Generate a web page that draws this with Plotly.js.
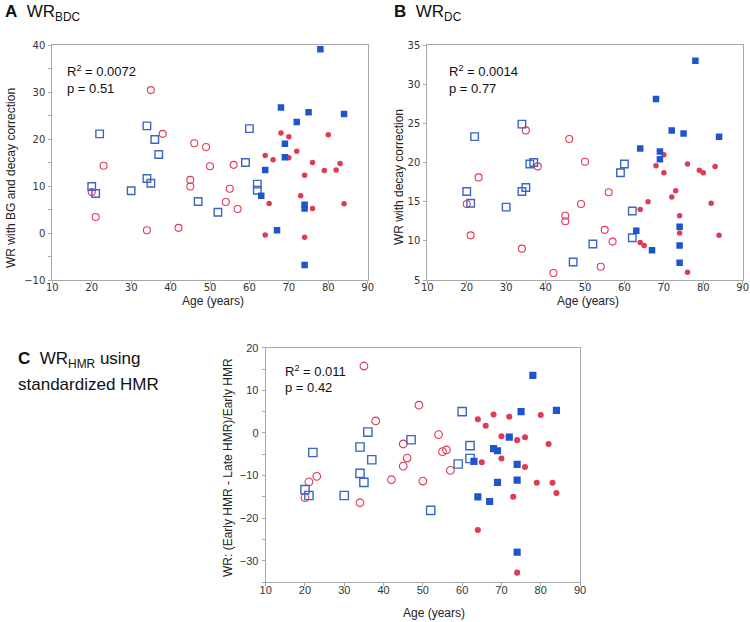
<!DOCTYPE html>
<html>
<head>
<meta charset="utf-8">
<script src="https://cdn.plot.ly/plotly-3.0.1.min.js"></script>
<style>html,body{margin:0;padding:0;background:#fff;}#chart{width:750px;height:622px;}</style>
</head>
<body>
<div id="chart"></div>
<script>
// ---- Data (ages in years, WR values) ----
const ageOpenBlue   = [20,21,22,30,34,34,35,36,37,47,52,59,60,62,62];
const ageFilledBlue = [63,64,67,68,69,69,72,74,74,74,75,78,84];
const ageOpenRed    = [20,21,23,34,35,38,42,45,45,46,49,50,54,55,56,57];
const ageFilledRed  = [64,64,65,66,68,70,70,72,73,74,74,76,76,79,80,82,83,84];

// Panel A: WR_BDC
const A_openBlue   = [9.9,8.4,21.1,9.0,22.8,11.6,10.6,19.9,16.7,6.7,4.4,15.0,22.2,10.4,9.1];
const A_filledBlue = [7.9,13.4,0.6,26.7,19.0,16.1,23.6,6.0,5.2,-6.8,25.7,39.1,25.3];
const A_openRed    = [8.7,3.4,14.3,0.6,30.4,21.1,1.1,11.3,9.9,19.1,18.3,14.2,6.6,9.4,14.5,5.1];
const A_filledRed  = [16.5,-0.4,6.3,15.6,21.3,20.5,16.0,17.4,7.9,12.3,-0.9,15.0,5.2,13.3,20.9,13.4,14.8,6.2];

// Panel B: WR_DC
const B_openBlue   = [16.3,14.8,23.3,14.3,24.9,16.3,16.8,19.8,20.0,7.3,9.6,18.7,19.8,13.8,10.4];
const B_filledBlue = [11.3,21.8,8.8,28.1,21.4,20.4,24.1,11.8,9.4,7.2,23.7,33.0,23.3];
const B_openRed    = [14.7,10.7,18.1,9.0,24.1,19.5,5.9,13.2,12.5,23.0,14.7,20.1,6.7,11.4,16.2,9.9];
const B_filledRed  = [14.0,9.8,9.4,15.0,19.6,21.0,18.7,15.6,16.4,13.2,11.0,19.8,6.0,19.0,18.7,14.8,19.5,10.7];

// Panel C: WR_HMR
const C_openBlue   = [-13.3,-14.7,-4.6,-14.7,-3.3,-9.5,-11.6,0.2,-6.3,-1.6,-18.2,-7.3,5.0,-3.0,-6.0];
const C_filledBlue = [-6.7,-15.0,-16.1,-3.7,-4.2,-11.6,-1.0,-7.4,-11.1,-28.0,5.0,13.5,5.3];
const C_openRed    = [-15.2,-11.5,-10.2,-16.4,15.7,2.8,-11.0,-2.6,-7.8,-5.9,6.5,-11.3,-0.4,-4.4,-4.0,-8.8];
const C_filledRed  = [3.2,-22.8,-6.9,1.7,4.3,-0.8,-6.0,3.8,-15.0,-1.7,-32.8,-1.0,-8.0,-11.7,4.2,-2.6,-11.7,-14.1];

const statsA = ["R<sup>2</sup> = 0.0072", "p = 0.51"];
const statsB = ["R<sup>2</sup> = 0.0014", "p = 0.77"];
const statsC = ["R<sup>2</sup> = 0.011", "p = 0.42"];

// ---- Styles ----
const BLUE = '#1f55cc', BLUE_OPEN = '#3a66c4', RED = '#e03a55';
const W = 750, H = 622;
const px = x => x / W, py = y => 1 - y / H;

function series(ax, ay, yOB, yFB, yOR, yFR, k) {
  return [
    {x: ageOpenRed, y: yOR, xaxis: ax, yaxis: ay, mode: 'markers', type: 'scatter',
     marker: {symbol: 'circle-open', size: 7 * k, color: RED, line: {width: 1.1, color: RED}}},
    {x: ageFilledRed, y: yFR, xaxis: ax, yaxis: ay, mode: 'markers', type: 'scatter',
     marker: {symbol: 'circle', size: 5.5 * k, color: RED}},
    {x: ageOpenBlue, y: yOB, xaxis: ax, yaxis: ay, mode: 'markers', type: 'scatter',
     marker: {symbol: 'square-open', size: 7.5 * k, color: BLUE_OPEN, line: {width: 1.4, color: BLUE_OPEN}}},
    {x: ageFilledBlue, y: yFB, xaxis: ax, yaxis: ay, mode: 'markers', type: 'scatter',
     marker: {symbol: 'square', size: 6.5 * k, color: BLUE}}
  ];
}

const data = [].concat(
  series('x', 'y', A_openBlue, A_filledBlue, A_openRed, A_filledRed, 1),
  series('x2', 'y2', B_openBlue, B_filledBlue, B_openRed, B_filledRed, 1),
  series('x3', 'y3', C_openBlue, C_filledBlue, C_openRed, C_filledRed, 1.1)
);

const fontAB = {family: 'DejaVu Sans', size: 10, color: '#333'};
const fontC = {family: 'Liberation Sans', size: 11, color: '#333'};
const axisBase = {
  showline: true, mirror: true, linecolor: '#a8a8a8', linewidth: 1,
  ticks: 'outside', ticklen: 3, tickcolor: '#a8a8a8', showgrid: false, zeroline: false
};
const xAx = (dom, anchor, font) => Object.assign({}, axisBase, {
  domain: dom, anchor: anchor, range: [10, 90], dtick: 10, tick0: 10,
  tickfont: font, ticklabelstandoff: -5
});
const yAx = (dom, anchor, range, dtick, minor, font) => {
  const a = Object.assign({}, axisBase, {domain: dom, anchor: anchor, range: range, dtick: dtick,
    tickfont: font, ticklabelstandoff: 1});
  if (minor) a.minor = {dtick: minor, ticks: 'outside', ticklen: 3, tickcolor: '#a8a8a8', showgrid: false};
  return a;
};

const titleFont = {family: 'Liberation Sans, Arial', size: 17, color: '#111'};
const labFont = {family: 'Liberation Sans, Arial', size: 12, color: '#222'};
const statFont = {family: 'Liberation Sans, Arial', size: 13, color: '#111'};

function ann(text, x, y, opts) {
  return Object.assign({text: text, xref: 'paper', yref: 'paper', x: px(x), y: py(y),
    showarrow: false, xanchor: 'left', yanchor: 'middle', font: labFont}, opts || {});
}

const annotations = [
  ann('<b>A</b>  WR<sub>BDC</sub>', 3, 13, {font: titleFont}),
  ann('<b>B</b>  WR<sub>DC</sub>', 392, 13, {font: titleFont}),
  ann('<b>C</b>  WR<sub>HMR</sub> using', 16, 360, {font: titleFont}),
  ann('standardized HMR', 16, 384, {font: titleFont}),
  ann('WR with BG and decay correction', 11, 178, {textangle: -90, xanchor: 'center'}),
  ann('WR with decay correction', 399, 177, {textangle: -90, xanchor: 'center'}),
  ann('WR: (Early HMR - Late HMR)/Early HMR', 228, 468, {textangle: -90, xanchor: 'center'}),
  ann('Age (years)', 213, 301, {xanchor: 'center'}),
  ann('Age (years)', 588, 301, {xanchor: 'center'}),
  ann('Age (years)', 434, 613, {xanchor: 'center'}),
  ann(statsA[0], 65, 71, {font: statFont}),
  ann(statsA[1], 65, 88, {font: statFont}),
  ann(statsB[0], 447, 71, {font: statFont}),
  ann(statsB[1], 447, 88, {font: statFont}),
  ann(statsC[0], 283, 371, {font: statFont}),
  ann(statsC[1], 283, 387, {font: statFont})
];

const layout = {
  width: W, height: H, margin: {l: 0, r: 0, t: 0, b: 0},
  paper_bgcolor: '#fff', plot_bgcolor: '#fff', showlegend: false,
  xaxis:  xAx([px(52.3), px(367.7)], 'y', fontAB),
  yaxis:  yAx([py(280), py(45)], 'x', [-10, 40], 10, 5, fontAB),
  xaxis2: xAx([px(427.3), px(742.7)], 'y2', fontAB),
  yaxis2: yAx([py(280), py(45)], 'x2', [5, 35], 5, null, fontAB),
  xaxis3: xAx([px(265.7), px(580)], 'y3', fontC),
  yaxis3: yAx([py(582), py(347.7)], 'x3', [-35, 20], 10, 5, fontC),
  annotations: annotations
};

Plotly.newPlot('chart', data, layout, {staticPlot: true, displayModeBar: false});
</script>
</body>
</html>
